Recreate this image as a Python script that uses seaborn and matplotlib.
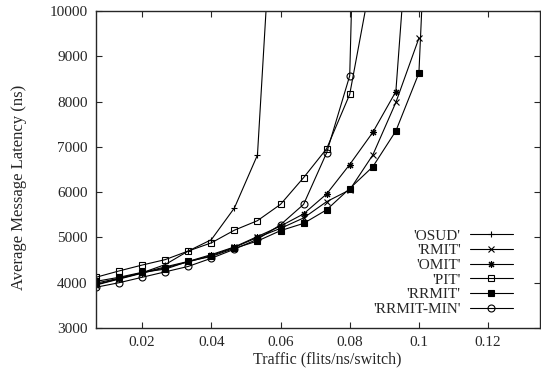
import pandas as pd
import seaborn as sns
import matplotlib
matplotlib.use('Agg')
import matplotlib.pyplot as plt

# traffic points are k/150 flits/ns/switch
osud_k = [1, 2, 3, 4, 5, 6, 7, 8, 9]
osud = [3990, 4100, 4220, 4400, 4700, 4950, 5650, 6820, 15400]

rmit_k = list(range(1, 16))
rmit = [3950, 4080, 4210, 4330, 4460, 4600, 4780, 5000, 5200, 5430, 5790, 6050, 6820, 7980, 9400]

omit_k = list(range(1, 16))
omit = [3960, 4090, 4220, 4350, 4470, 4620, 4790, 5020, 5250, 5520, 5960, 6610, 7320, 8220, 15100]

pit_k = list(range(1, 14))
pit = [4120, 4260, 4390, 4510, 4700, 4880, 5160, 5370, 5730, 6320, 6960, 8160, 10900]

rrmit_k = list(range(1, 17))
rrmit = [4030, 4120, 4230, 4300, 4470, 4580, 4760, 4920, 5150, 5310, 5610, 6080, 6560, 7350, 8630, 20000]

rrmitmin_k = list(range(1, 14))
rrmitmin = [3900, 4000, 4120, 4240, 4360, 4540, 4740, 4960, 5280, 5730, 6870, 8570, 28000]

series = [
    ("'OSUD'", osud_k, osud, '+', 'black'),
    ("'RMIT'", rmit_k, rmit, 'x', 'black'),
    ("'OMIT'", omit_k, omit, (8, 2, 0), 'black'),
    ("'PIT'", pit_k, pit, 's', 'none'),
    ("'RRMIT'", rrmit_k, rrmit, 's', 'black'),
    ("'RRMIT-MIN'", rrmitmin_k, rrmitmin, 'o', 'none'),
]

sns.set_style('ticks')
plt.rcParams['font.family'] = ['Liberation Serif', 'DejaVu Serif']

fig = plt.figure(figsize=(5.41, 3.70), dpi=100)
ax = fig.add_axes([96 / 541, 1 - 328 / 370, 444 / 541, 317 / 370])

for name, ks, vals, mk, fc in series:
    df = pd.DataFrame({'traffic': [k / 150 for k in ks], 'latency': vals})
    sns.lineplot(data=df, x='traffic', y='latency', ax=ax, color='black',
                 linewidth=0.8, marker=mk, markersize=5, markerfacecolor=fc,
                 markeredgecolor='black', markeredgewidth=0.8, label=name)

ax.set_xlim(1 / 150, 0.135)
ax.set_ylim(3000, 10000)
ax.set_xticks([0.02, 0.04, 0.06, 0.08, 0.1, 0.12])
ax.set_xticklabels(['0.02', '0.04', '0.06', '0.08', '0.1', '0.12'])
ax.set_yticks(range(3000, 10001, 1000))
ax.tick_params(direction='in', length=4, width=0.8, top=True, right=True,
               labelsize=11, pad=6)
for sp in ax.spines.values():
    sp.set_linewidth(1.0)
    sp.set_visible(True)

ax.set_xlabel('Traffic (flits/ns/switch)', fontsize=11.5, labelpad=1)
ax.xaxis.set_label_coords(0.52, -0.075)
ax.set_ylabel('Average Message Latency (ns)', fontsize=12)
ax.yaxis.set_label_coords(-0.155, 0.445)

ax.legend(loc='lower right', bbox_to_anchor=(0.9625, 0.004), frameon=False,
          markerfirst=False, fontsize=11, handlelength=2.8, labelspacing=0.065,
          handletextpad=0.6, borderpad=0.2)

fig.savefig('out.png', dpi=100)
